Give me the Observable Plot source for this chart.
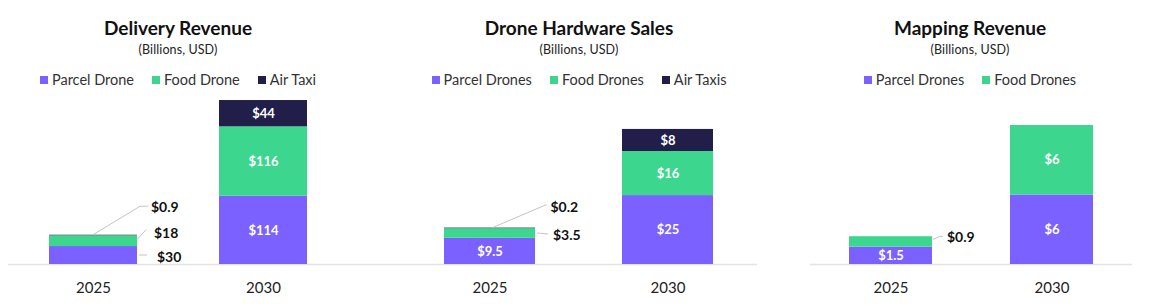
<!DOCTYPE html>
<html><head><meta charset="utf-8">
<script src="https://cdn.jsdelivr.net/npm/d3@7"></script>
<script src="https://cdn.jsdelivr.net/npm/@observablehq/plot@0.6"></script>
<style>
body{margin:0;background:#fff;font-family:Lato,"Open Sans",sans-serif;}
#root{position:relative;width:1154px;height:306px;overflow:hidden;background:#fff;}
.hdr{position:absolute;top:0;width:420px;height:92px;color:#111;}
.title{position:absolute;top:18px;width:100%;text-align:center;font-weight:700;font-size:19px;line-height:19px;}
.sub{position:absolute;top:44px;width:100%;text-align:center;font-size:12.5px;line-height:12px;color:#222;letter-spacing:0.1px;}
.legend{position:absolute;top:73px;width:100%;display:flex;justify-content:center;align-items:center;font-size:14.5px;line-height:14px;color:#333;}
.li{display:flex;align-items:center;margin:0 9px;}
.sw{width:8px;height:8px;margin-right:4px;}
.plot{position:absolute;top:92px;}
</style>
</head><body><div id="root"></div>
<script>
// ---------- data ----------
const years = ["2025", "2030"];
const subtitle = "(Billions, USD)";

const deliveryTitle = "Delivery Revenue";
const deliverySeries = ["Parcel Drone", "Food Drone", "Air Taxi"];
const deliveryParcel = [30, 114];
const deliveryFood = [18, 116];
const deliveryAir = [0.9, 44];

const hardwareTitle = "Drone Hardware Sales";
const hardwareSeries = ["Parcel Drones", "Food Drones", "Air Taxis"];
const hardwareParcel = [9.5, 25];
const hardwareFood = [3.5, 16];
const hardwareAir = [0.2, 8];

const mappingTitle = "Mapping Revenue";
const mappingSeries = ["Parcel Drones", "Food Drones"];
const mappingParcel = [1.5, 6];
const mappingFood = [0.9, 6];

// ---------- style / layout ----------
const colors = ["#7b61ff", "#3dd68f", "#211e4a"];
const fmt = v => "$" + v;

const panels = [
  {title: deliveryTitle, series: deliverySeries, values: [deliveryParcel, deliveryFood, deliveryAir],
   center: 178, ruleL: 8, ruleR: 348, bar1L: 49, bar1R: 137, bar2L: 219, yMax: 287.4,
   callouts: [
     {year: "2025", s: 2, anchor: "top", pts: [[0, 0], [47, -28.5], [55, -28.5]], tx: 58, ty: -28},
     {year: "2025", s: 1, anchor: "side", pts: [[0, -1], [9, -11]], tx: 17, ty: -8},
     {year: "2025", s: 0, anchor: "side", pts: [[2, 0], [10, 0]], tx: 20, ty: 2}
   ]},
  {title: hardwareTitle, series: hardwareSeries, values: [hardwareParcel, hardwareFood, hardwareAir],
   center: 579, ruleL: 348, ruleR: 757, bar1L: 444, bar1R: 535, bar2L: 622, yMax: 62.4,
   callouts: [
     {year: "2025", s: 2, anchor: "top", pts: [[3, 0], [57, -23]], tx: 61, ty: -21},
     {year: "2025", s: 1, anchor: "side", pts: [[2, 0], [13, 1]], tx: 18, ty: 2}
   ]},
  {title: mappingTitle, series: mappingSeries, values: [mappingParcel, mappingFood],
   center: 970, ruleL: 810, ruleR: 1132, bar1L: 849, bar1R: 932, bar2L: 1010, yMax: 14.85,
   callouts: [
     {year: "2025", s: 1, anchor: "side", pts: [[1, -2], [8, -5], [11, -5]], tx: 15, ty: -4}
   ]}
];

const root = document.getElementById("root");

for (const p of panels) {
  const hdr = document.createElement("div");
  hdr.className = "hdr";
  hdr.style.left = (p.center - 210) + "px";
  hdr.innerHTML = `<div class="title"></div><div class="sub"></div><div class="legend"></div>`;
  hdr.querySelector(".title").textContent = p.title;
  hdr.querySelector(".sub").textContent = subtitle;
  const leg = hdr.querySelector(".legend");
  p.series.forEach((s, i) => {
    const it = document.createElement("div");
    it.className = "li";
    it.innerHTML = `<span class="sw" style="background:${colors[i]}"></span><span></span>`;
    it.lastChild.textContent = s;
    leg.appendChild(it);
  });
  root.appendChild(hdr);

  const rows = [];
  p.series.forEach((s, si) => years.forEach((y, yi) => {
    const outside = p.callouts.some(c => c.year === y && c.s === si);
    rows.push({year: y, series: s, value: p.values[si][yi], label: fmt(p.values[si][yi]), outside});
  }));

  const W = p.ruleR - p.ruleL;
  const step = p.bar2L - p.bar1L;
  const bw = p.bar1R - p.bar1L;
  const pin = 1 - bw / step;
  const pout = (W / step - 2 + pin) / 2;
  const leftover = W - step * (2 - pin);
  const align = (p.bar1L - p.ruleL) / leftover;

  const calloutMark = (index, scales) => {
    const x = scales.x, y = scales.y;
    const band = typeof x.bandwidth === "function" ? x.bandwidth() : (scales.scales && scales.scales.x.bandwidth) || 0;
    const g = d3.create("svg:g");
    for (const c of p.callouts) {
      const yi = years.indexOf(c.year);
      let y0 = 0;
      for (let k = 0; k < c.s; k++) y0 += p.values[k][yi];
      const y1 = y0 + p.values[c.s][yi];
      const ax = c.anchor === "top" ? x(c.year) + band / 2 : x(c.year) + band;
      const ay = c.anchor === "top" ? y(y1) : y((y0 + y1) / 2);
      g.append("path")
        .attr("d", d3.line()(c.pts.map(([dx, dy]) => [ax + dx, ay + dy])))
        .attr("fill", "none").attr("stroke", "#c4c4c4").attr("stroke-width", 1);
      g.append("text")
        .attr("x", ax + c.tx).attr("y", ay + c.ty)
        .attr("dy", "0.35em")
        .attr("text-anchor", "start")
        .attr("font-size", 14).attr("font-weight", 700).attr("fill", "#111")
        .text(fmt(p.values[c.s][yi]));
    }
    return g.node();
  };

  const chart = Plot.plot({
    width: W,
    height: 214,
    marginLeft: 0, marginRight: 0, marginTop: 0, marginBottom: 42,
    style: {fontFamily: "Lato, 'Open Sans', sans-serif", background: "transparent", color: "#222", overflow: "visible"},
    x: {domain: years, paddingInner: pin, paddingOuter: pout, align, axis: null},
    y: {domain: [0, p.yMax], axis: null},
    color: {domain: p.series, range: colors.slice(0, p.series.length)},
    marks: [
      Plot.ruleY([0], {stroke: "#e4e4e4", strokeWidth: 1.5}),
      Plot.barY(rows, {x: "year", y: "value", fill: "series"}),
      Plot.text(rows, Plot.stackY({x: "year", y: "value", z: "series",
        text: d => d.outside ? "" : d.label, fill: "white", fontWeight: 700, fontSize: 13})),
      calloutMark,
      Plot.axisX({tickSize: 0, tickPadding: 18, fontSize: 15, label: null})
    ]
  });
  chart.classList.add("plot");
  chart.style.left = p.ruleL + "px";
  root.appendChild(chart);
}
</script>
</body></html>
